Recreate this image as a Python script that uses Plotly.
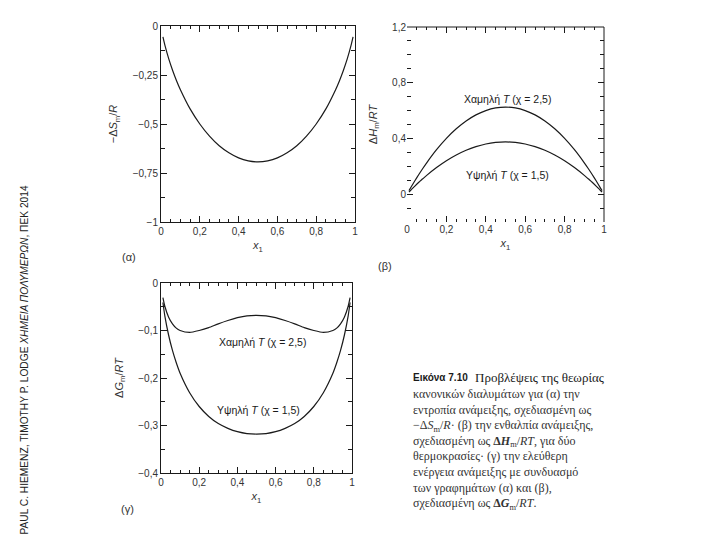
import plotly.graph_objects as go

# mole fraction x1
x1 = [0.01, 0.02, 0.04, 0.06, 0.08, 0.1, 0.15, 0.2, 0.25, 0.3, 0.35, 0.4, 0.45, 0.5,
      0.55, 0.6, 0.65, 0.7, 0.75, 0.8, 0.85, 0.9, 0.92, 0.94, 0.96, 0.98, 0.99]

# (a) -dS_m/R
entropy = [-0.056, -0.098, -0.168, -0.227, -0.279, -0.325, -0.423, -0.500, -0.562, -0.611,
           -0.647, -0.673, -0.688, -0.693, -0.688, -0.673, -0.647, -0.611, -0.562, -0.500,
           -0.423, -0.325, -0.279, -0.227, -0.168, -0.098, -0.056]

# (b) dH_m/RT
enthalpy_low_t = [0.025, 0.049, 0.096, 0.141, 0.184, 0.225, 0.319, 0.400, 0.469, 0.525,
                  0.569, 0.600, 0.619, 0.625, 0.619, 0.600, 0.569, 0.525, 0.469, 0.400,
                  0.319, 0.225, 0.184, 0.141, 0.096, 0.049, 0.025]
enthalpy_high_t = [0.015, 0.029, 0.058, 0.085, 0.110, 0.135, 0.191, 0.240, 0.281, 0.315,
                   0.341, 0.360, 0.371, 0.375, 0.371, 0.360, 0.341, 0.315, 0.281, 0.240,
                   0.191, 0.135, 0.110, 0.085, 0.058, 0.029, 0.015]

# (c) dG_m/RT
gibbs_low_t = [-0.031, -0.049, -0.072, -0.086, -0.095, -0.100, -0.104, -0.100, -0.094, -0.086,
               -0.079, -0.073, -0.069, -0.068, -0.069, -0.073, -0.079, -0.086, -0.094, -0.100,
               -0.104, -0.100, -0.095, -0.086, -0.072, -0.049, -0.031]
gibbs_high_t = [-0.041, -0.069, -0.110, -0.142, -0.168, -0.190, -0.231, -0.260, -0.281, -0.296,
                -0.306, -0.313, -0.317, -0.318, -0.317, -0.313, -0.306, -0.296, -0.281, -0.260,
                -0.231, -0.190, -0.168, -0.142, -0.110, -0.069, -0.041]

x_ticks = [0, 0.2, 0.4, 0.6, 0.8, 1]
x_labels = ['0', '0,2', '0,4', '0,6', '0,8', '1']
a_ticks = [0, -0.25, -0.5, -0.75, -1]
a_labels = ['0', '−0,25', '−0,5', '−0,75', '−1']
b_ticks = [0, 0.4, 0.8, 1.2]
b_labels = ['0', '0,4', '0,8', '1,2']
c_ticks = [0, -0.1, -0.2, -0.3, -0.4]
c_labels = ['0', '−0,1', '−0,2', '−0,3', '−0,4']

LOW = 'Χαμηλή <i>T</i> (χ = 2,5)'
HIGH = 'Υψηλή <i>T</i> (χ = 1,5)'

W, H = 720, 540
INK = '#1a1a1a'
SANS = 'Liberation Sans, Arial, sans-serif'
SERIF = 'Liberation Serif, Times New Roman, serif'


def px(x):
    return x / W


def py(y):
    return 1 - y / H


line = dict(color=INK, width=1.2, shape='spline', smoothing=0.6)

fig = go.Figure()
fig.add_trace(go.Scatter(x=x1, y=entropy, mode='lines', line=line, xaxis='x', yaxis='y'))
fig.add_trace(go.Scatter(x=x1, y=enthalpy_low_t, mode='lines', line=line, xaxis='x2', yaxis='y2'))
fig.add_trace(go.Scatter(x=x1, y=enthalpy_high_t, mode='lines', line=line, xaxis='x2', yaxis='y2'))
fig.add_trace(go.Scatter(x=x1, y=gibbs_low_t, mode='lines', line=line, xaxis='x3', yaxis='y3'))
fig.add_trace(go.Scatter(x=x1, y=gibbs_high_t, mode='lines', line=line, xaxis='x3', yaxis='y3'))

tickfont = dict(family=SANS, size=10, color='#333')
titlefont = dict(family=SANS, size=11, color='#333')


def xaxis(domain, anchor, box=True):
    return dict(domain=domain, anchor=anchor, range=[0, 1], tickvals=x_ticks, ticktext=x_labels,
                ticks='inside', ticklen=6, tickwidth=1, tickcolor=INK,
                showline=box, linecolor=INK, linewidth=1,
                mirror='allticks', showgrid=False, zeroline=False,
                minor=dict(dtick=0.05, ticks='inside', ticklen=3, tickwidth=1, tickcolor=INK,
                           showgrid=False),
                tickfont=tickfont,
                title=dict(text='<i>x</i><sub>1</sub>', font=titlefont, standoff=5))


def yaxis(domain, anchor, rng, vals, labels, minor, title, box=True):
    return dict(domain=domain, anchor=anchor, range=rng, tickvals=vals, ticktext=labels,
                ticks='inside', ticklen=6, tickwidth=1, tickcolor=INK,
                showline=box, linecolor=INK, linewidth=1,
                mirror='allticks', showgrid=False, zeroline=False,
                minor=dict(dtick=minor, ticks='inside', ticklen=4, tickwidth=1, tickcolor=INK,
                           showgrid=False),
                tickfont=tickfont,
                title=dict(text=title, font=titlefont, standoff=12))


fig.update_layout(
    width=W, height=H, margin=dict(l=0, r=0, t=0, b=0, autoexpand=False),
    paper_bgcolor='white', plot_bgcolor='white', showlegend=False,
    xaxis=xaxis([px(161), px(355)], 'y'),
    yaxis=yaxis([py(222), py(26)], 'x', [-1, 0], a_ticks, a_labels, 0.125,
                '−Δ<i>S</i><sub>m</sub>/<i>R</i>'),
    xaxis2=xaxis([px(407), px(604)], 'y2', box=False),
    yaxis2=yaxis([py(222), py(27)], 'x2', [-0.2, 1.2], b_ticks, b_labels, 0.1,
                 'Δ<i>H</i><sub>m</sub>/<i>RT</i>', box=False),
    xaxis3=xaxis([px(161), px(352)], 'y3'),
    yaxis3=yaxis([py(473), py(283)], 'x3', [-0.4, 0], c_ticks, c_labels, 0.05,
                 'Δ<i>G</i><sub>m</sub>/<i>RT</i>'),
)
# panel (b): the scan shows only its top and right frame lines
fig.add_shape(type='line', xref='x2 domain', yref='y2 domain', x0=0, x1=1, y0=1, y1=1,
              line=dict(color=INK, width=1))
fig.add_shape(type='line', xref='x2 domain', yref='y2 domain', x0=1, x1=1, y0=0, y1=1,
              line=dict(color=INK, width=1))

curve_font = dict(family=SANS, size=10.5, color=INK)
notes = [
    ('x2', 'y2', 0.51, 0.68, LOW),
    ('x2', 'y2', 0.51, 0.14, HIGH),
    ('x3', 'y3', 0.53, -0.124, LOW),
    ('x3', 'y3', 0.51, -0.268, HIGH),
]
for xr, yr, xv, yv, txt in notes:
    fig.add_annotation(xref=xr, yref=yr, x=xv, y=yv, text=txt, showarrow=False, font=curve_font)

for xv, yv, txt in [(120, 257, '(α)'), (385, 266, '(β)'), (119, 517, '(γ)')]:
    fig.add_annotation(xref='paper', yref='paper', x=px(xv), y=py(yv), text=txt,
                       showarrow=False, font=dict(family=SANS, size=11, color='#333'))

# vertical credit line along the left edge
fig.add_annotation(xref='paper', yref='paper', x=px(16), y=py(360), textangle=-90,
                   text='PAUL C. HIEMENZ, TIMOTHY P. LODGE <i>ΧΗΜΕΙΑ ΠΟΛΥΜΕΡΩΝ</i>, ΠΕΚ 2014',
                   showarrow=False, font=dict(family=SANS, size=10.2, color='#222'))

# figure caption
fig.add_annotation(xref='paper', yref='paper', x=px(411), y=py(377), xanchor='left',
                   yanchor='middle', text='<b>Εικόνα 7.10</b>', showarrow=False,
                   font=dict(family=SANS, size=10, color=INK))
fig.add_annotation(xref='paper', yref='paper', x=px(473), y=py(377), xanchor='left',
                   yanchor='middle', text='Προβλέψεις της θεωρίας', showarrow=False,
                   font=dict(family=SERIF, size=13, color=INK))
caption = ('κανονικών διαλυμάτων για (α) την<br>'
           'εντροπία ανάμειξης, σχεδιασμένη ως<br>'
           '−Δ<i>S</i><sub>m</sub>/<i>R</i>· (β) την ενθαλπία ανάμειξης,<br>'
           'σχεδιασμένη ως <b>Δ<i>H</i></b><sub>m</sub>/<i>RT</i>, για δύο<br>'
           'θερμοκρασίες· (γ) την ελεύθερη<br>'
           'ενέργεια ανάμειξης με συνδυασμό<br>'
           'των γραφημάτων (α) και (β),<br>'
           'σχεδιασμένη ως <b>Δ<i>G</i></b><sub>m</sub>/<i>RT</i>.')
fig.add_annotation(xref='paper', yref='paper', x=px(411), y=py(385), xanchor='left',
                   yanchor='top', align='left', text=caption, showarrow=False,
                   font=dict(family=SERIF, size=12, color='#333'))

# the page body has a default 8px margin; drop it so the figure fills the window
fig.write_html('out.html', config={'displayModeBar': False},
               post_script="document.body.style.margin='0px';")
